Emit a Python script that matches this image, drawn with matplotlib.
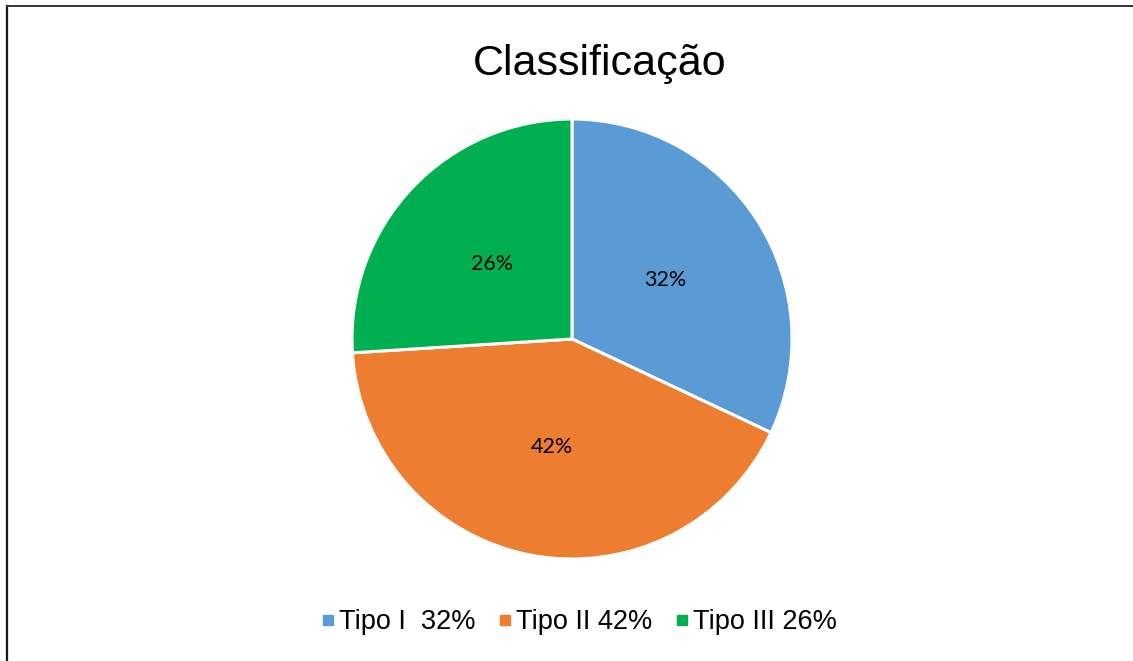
import matplotlib.pyplot as plt
from matplotlib.lines import Line2D

# dados
categorias = ['Tipo I  32%', 'Tipo II 42%', 'Tipo III 26%']
valores = [32, 42, 26]
cores = ['#5B9BD5', '#ED7D31', '#00B050']
titulo = 'Classificação'

W, H = 1133, 661
fig = plt.figure(figsize=(W / 100, H / 100), dpi=100)
fig.patch.set_facecolor('white')

# eixo da pizza: centro (572, 339) px, raio 220 px
cx, cy, r = 572, 339, 220
ax = fig.add_axes([(cx - r) / W, (H - cy - r) / H, 2 * r / W, 2 * r / H])
wedges, _, autotexts = ax.pie(
    valores, colors=cores, startangle=90, counterclock=False,
    autopct='%1.0f%%', pctdistance=0.5,
    wedgeprops=dict(edgecolor='white', linewidth=2.2),
    textprops=dict(family=['Lato', 'DejaVu Sans'], fontsize=15.5, color='black'),
)
ax.set_xlim(-1, 1)
ax.set_ylim(-1, 1)
ax.set_aspect('equal')
ax.axis('off')

fig.text(600 / W, 1 - 75 / H, titulo, ha='center', va='baseline',
         family=['Liberation Sans', 'DejaVu Sans'], fontsize=31)

handles = [Line2D([], [], marker='s', linestyle='none', markersize=6.5,
                  markerfacecolor=c, markeredgecolor=c) for c in cores]
fig.legend(handles, categorias, loc='center', bbox_to_anchor=(580 / W, 1 - 622 / H),
           ncol=3, frameon=False, handlelength=0.35, handletextpad=0.25,
           columnspacing=0.9, borderpad=0,
           prop=dict(family=['Liberation Sans', 'DejaVu Sans'], size=19.5))

# moldura (apenas topo e esquerda visiveis)
fig.add_artist(Line2D([7 / W, 7 / W], [0, 1 - 6 / H], transform=fig.transFigure,
                      color='#1a1a1a', linewidth=1.6))
fig.add_artist(Line2D([7 / W, 1], [1 - 6 / H, 1 - 6 / H], transform=fig.transFigure,
                      color='#333333', linewidth=1.4))

fig.savefig('out.png', dpi=100)
